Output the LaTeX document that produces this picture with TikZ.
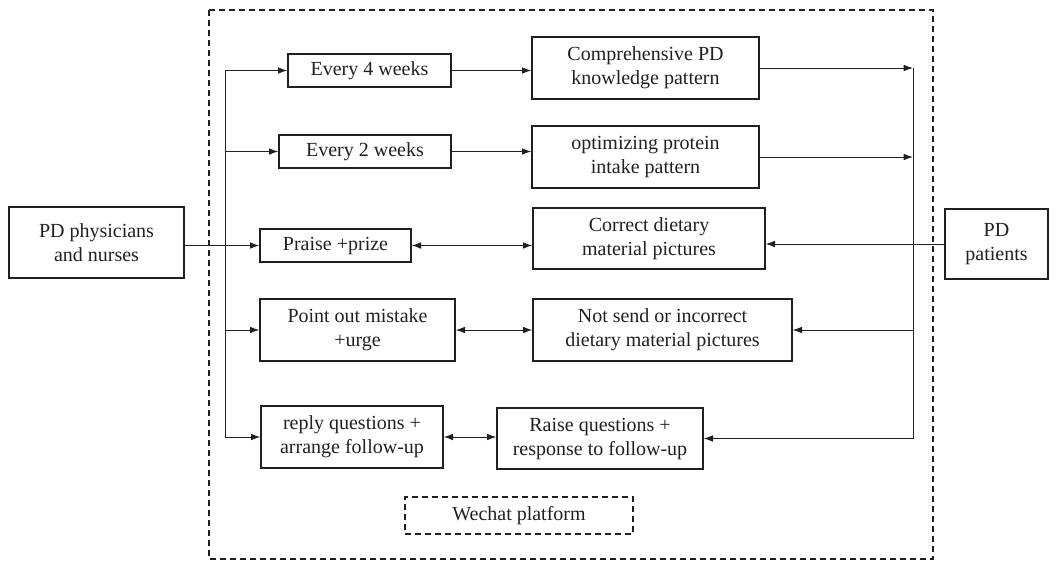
\documentclass[tikz,border=0pt]{standalone}
\usepackage{fontspec}
\setmainfont{Liberation Serif}
\usetikzlibrary{arrows.meta}

\definecolor{ink}{RGB}{35,31,32}
\tikzset{every picture/.style={line width=0.75pt, color=ink}}
\tikzset{
  blk/.style={draw, line width=1pt, align=center, inner sep=0pt, font=\fontsize{15}{18}\selectfont},
  dsh/.style={draw, line width=0.9pt, dash pattern=on 4.5pt off 3pt},
  arr/.style={-{Latex[length=7pt,width=5pt]}},
  darr/.style={{Latex[length=7pt,width=5pt]}-{Latex[length=7pt,width=5pt]}},
}

\begin{document}
\begin{tikzpicture}[x=0.75pt,y=0.75pt,yscale=-1,xscale=1]
\path (0,0) rectangle (1060,562);

%Shape: Rectangle [outer frame]
\draw [dsh] (209,10) rectangle (933,559);

% Text Node
\node [blk, minimum width=131.25pt, minimum height=53.25pt] (phys) at (96.5,242.5) {PD physicians\\and nurses};
\node [blk, minimum width=77.25pt, minimum height=52.5pt] (pat) at (996.5,244) {PD\\patients};
% Text Node
\node [blk, minimum width=122.25pt, minimum height=24.75pt] (wk4) at (369.5,70.5) {Every 4 weeks};
\node [blk, minimum width=129pt, minimum height=24.75pt] (wk2) at (365,151.5) {Every 2 weeks};
\node [blk, minimum width=113.25pt, minimum height=24.75pt] (praise) at (335.5,245.5) {Praise +prize};
\node [blk, minimum width=146.25pt, minimum height=46.5pt] (urge) at (357.5,330) {Point out mistake\\+urge};
\node [blk, minimum width=136.5pt, minimum height=46.5pt] (reply) at (352,437) {reply questions +\\arrange follow-up};
% Text Node
\node [blk, minimum width=170.25pt, minimum height=46.5pt] (know) at (645.5,68) {Comprehensive PD\\knowledge pattern};
\node [blk, minimum width=170.25pt, minimum height=46.5pt] (prot) at (645.5,157) {optimizing protein\\intake pattern};
\node [blk, minimum width=174pt, minimum height=45.75pt] (good) at (649,238.5) {Correct dietary\\material pictures};
\node [blk, minimum width=194.25pt, minimum height=46.5pt] (bad) at (662.5,330) {Not send or incorrect\\dietary material pictures};
\node [blk, minimum width=154.5pt, minimum height=45.75pt] (ask) at (600,438.5) {Raise questions +\\response to follow-up};
% Text Node
\node [blk, dsh, line width=0.9pt, minimum width=171pt, minimum height=27.75pt] (wechat) at (519,515.5) {Wechat platform};

% Connection
\coordinate (ltop) at (225,70.5);
\coordinate (lbot) at (225,437);
\coordinate (rtop) at (913,68);
\coordinate (rbot) at (913,438.5);
\draw (ltop) -- (lbot);
\draw (rtop) -- (rbot);

\draw [arr] (phys.east |- praise) -- (praise.west);
\draw [arr] (ltop) -- (wk4.west);
\draw [arr] (ltop |- wk2) -- (wk2.west);
\draw [arr] (ltop |- urge) -- (urge.west);
\draw [arr] (lbot) -- (reply.west);

\draw [arr] (wk4.east) -- (know.west |- wk4);
\draw [arr] (wk2.east) -- (prot.west |- wk2);
\draw [darr] (praise.east) -- (good.west |- praise);
\draw [darr] (urge.east) -- (bad.west);
\draw [darr] (reply.east) -- (ask.west |- reply);

\draw [arr] (know.east) -- (rtop);
\draw [arr] (prot.east) -- (rtop |- prot);
\draw [arr] (pat.west) -- (good.east |- pat);
\draw [arr] (rtop |- bad) -- (bad.east);
\draw [arr] (rbot) -- (ask.east);

\end{tikzpicture}
\end{document}
